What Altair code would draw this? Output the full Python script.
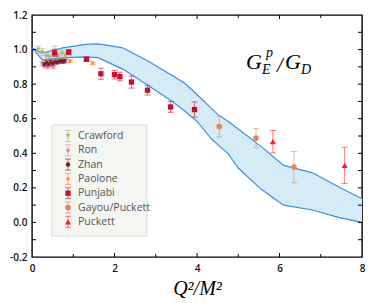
import altair as alt
import pandas as pd

# ---- theory band ----
band_x = [0.0, 0.25, 0.75, 1.3, 1.6, 2.2, 2.8, 3.4, 3.7, 4.0, 4.35, 4.5, 4.75, 5.0, 5.55, 6.1, 6.8, 7.45, 8.0]
band_upper = [1.01, 0.98, 1.01, 1.03, 1.033, 1.01, 0.935, 0.85, 0.805, 0.74, 0.66, 0.625, 0.585, 0.54, 0.44, 0.33, 0.287, 0.203, 0.137]
band_lower = [1.01, 0.94, 0.953, 0.958, 0.953, 0.887, 0.795, 0.70, 0.645, 0.585, 0.484, 0.45, 0.40, 0.315, 0.193, 0.10, 0.072, 0.028, 0.0]

# ---- data sets ----
series = ["Crawford", "Ron", "Zhan", "Paolone", "Punjabi", "Gayou/Puckett", "Puckett"]
colors = ["#b2b26a", "#f27f9f", "#7a1c24", "#ff7f2a", "#c8102e", "#e0875a", "#ff1f1f"]
star = "M0,-1 L0.22,-0.31 L0.95,-0.31 L0.36,0.12 L0.59,0.81 L0,0.38 L-0.59,0.81 L-0.36,0.12 L-0.95,-0.31 L-0.22,-0.31 Z"
shapes = ["triangle-down", "diamond", "circle", star, "square", "circle", "triangle-up"]
sizes = [22, 22, 12, 30, 28, 32, 38]

crawford_x = [0.15, 0.25, 0.35, 0.42, 0.55, 0.63, 0.72, 0.8]
crawford_y = [1.0, 0.985, 0.96, 0.955, 0.995, 0.96, 0.975, 0.965]
crawford_err = [0.02, 0.02, 0.02, 0.02, 0.025, 0.02, 0.02, 0.02]

ron_x = [0.25, 0.3, 0.38, 0.45, 0.52]
ron_y = [0.92, 0.905, 0.9, 0.91, 0.9]
ron_err = [0.012, 0.012, 0.012, 0.012, 0.012]

zhan_x = [0.3, 0.35, 0.4, 0.45, 0.5, 0.55, 0.6, 0.65, 0.7, 0.75, 0.8]
zhan_y = [0.915, 0.925, 0.915, 0.93, 0.92, 0.93, 0.925, 0.93, 0.935, 0.93, 0.935]
zhan_err = [0.01] * 11

paolone_x = [0.92, 1.47]
paolone_y = [0.934, 0.921]
paolone_err = [0.008, 0.008]

punjabi_x = [0.55, 0.89, 1.32, 1.67, 2.0, 2.13, 2.41, 2.8, 3.36, 3.94]
punjabi_y = [0.98, 0.985, 0.944, 0.86, 0.855, 0.844, 0.812, 0.765, 0.668, 0.653]
punjabi_err = [0.02, 0.015, 0.012, 0.032, 0.025, 0.025, 0.035, 0.028, 0.031, 0.044]

gayou_x = [4.54, 5.43, 6.35]
gayou_y = [0.555, 0.488, 0.32]
gayou_err = [0.06, 0.056, 0.09]

puckett_x = [5.84, 7.58]
puckett_y = [0.467, 0.33]
puckett_err = [0.065, 0.105]

sets = [
    (crawford_x, crawford_y, crawford_err),
    (ron_x, ron_y, ron_err),
    (zhan_x, zhan_y, zhan_err),
    (paolone_x, paolone_y, paolone_err),
    (punjabi_x, punjabi_y, punjabi_err),
    (gayou_x, gayou_y, gayou_err),
    (puckett_x, puckett_y, puckett_err),
]

x_ticks_major = [0, 2, 4, 6, 8]
x_ticks_minor = [1, 3, 5, 7]
y_labels = [-0.2, 0.0, 0.2, 0.4, 0.6, 0.8, 1.0, 1.2]
y_ticks = [-0.1, 0.0, 0.1, 0.2, 0.3, 0.4, 0.5, 0.6, 0.7, 0.8, 0.9, 1.0, 1.1]

W, H = 330, 242
xs = alt.Scale(domain=[0, 8], nice=False, zero=False)
ys = alt.Scale(domain=[-0.2, 1.2], nice=False, zero=False)

x_axis = alt.Axis(values=x_ticks_major, format="d", title="Q²/M²", labelFlush=False,
                  labelOverlap=False, labelPadding=6, titlePadding=5)
y_axis = alt.Axis(values=y_labels, labelExpr="replace(format(datum.value, '.1f'), '\u2212', '-')",
                  title=None, labelFlush=False, labelOverlap=False, labelPadding=5)


def XA(f):
    return alt.X(f, scale=xs, axis=x_axis, title="Q²/M²")


def YA(f):
    return alt.Y(f, scale=ys, axis=y_axis, title=None)


band_df = pd.DataFrame({"x": band_x, "y": band_upper, "y2": band_lower})
band = alt.Chart(band_df).mark_area(color="#d5ecf7", opacity=1).encode(x=XA("x:Q"), y=YA("y:Q"), y2="y2:Q")
up_line = alt.Chart(band_df).mark_line(color="#3d8de8", strokeWidth=1.2).encode(x=XA("x:Q"), y=YA("y:Q"))
lo_line = alt.Chart(band_df).mark_line(color="#3d8de8", strokeWidth=1.2).encode(x=XA("x:Q"), y=YA("y2:Q"))

layers = [band, up_line, lo_line]

# inner ticks
ydf = pd.DataFrame({"y": y_ticks})
layers.append(alt.Chart(ydf).mark_rule(color="black", strokeWidth=1).encode(
    y=YA("y:Q"), x=alt.value(0), x2=alt.value(4)))
layers.append(alt.Chart(ydf).mark_rule(color="black", strokeWidth=1).encode(
    y=YA("y:Q"), x=alt.value(W), x2=alt.value(W - 4)))
xmaj = pd.DataFrame({"x": x_ticks_major[1:-1]})
xmin = pd.DataFrame({"x": x_ticks_minor})
for d, ln in ((xmaj, 4), (xmin, 3)):
    layers.append(alt.Chart(d).mark_rule(color="black", strokeWidth=1).encode(
        x=XA("x:Q"), y=alt.value(H), y2=alt.value(H - ln)))
    layers.append(alt.Chart(d).mark_rule(color="black", strokeWidth=1).encode(
        x=XA("x:Q"), y=alt.value(0), y2=alt.value(ln)))

# data error bars + points
for name, col, shp, sz, (sx, sy, se) in zip(series, colors, shapes, sizes, sets):
    df = pd.DataFrame({"x": sx, "y": sy, "lo": [a - b for a, b in zip(sy, se)],
                       "hi": [a + b for a, b in zip(sy, se)]})
    c = alt.Chart(df)
    layers.append(c.mark_rule(color=col, opacity=0.6, strokeWidth=1).encode(
        x=XA("x:Q"), y=YA("lo:Q"), y2="hi:Q"))
    layers.append(c.mark_tick(color=col, opacity=0.6, orient="horizontal", size=6, thickness=1).encode(
        x=XA("x:Q"), y=YA("lo:Q")))
    layers.append(c.mark_tick(color=col, opacity=0.6, orient="horizontal", size=6, thickness=1).encode(
        x=XA("x:Q"), y=YA("hi:Q")))
    layers.append(c.mark_point(shape=shp, filled=True, color=col, opacity=1, size=sz).encode(
        x=XA("x:Q"), y=YA("y:Q")))

# legend
one = pd.DataFrame({"t": [""]})
layers.append(alt.Chart(one).mark_rect(fill="#f5f5f1", stroke="#d9d9d5", strokeWidth=1).encode(
    x=alt.value(20), x2=alt.value(115), y=alt.value(110), y2=alt.value(221)))
for i, (name, col, shp, sz) in enumerate(zip(series, colors, shapes, sizes)):
    yy = 121 + i * 14.3
    c = alt.Chart(pd.DataFrame({"t": [name]}))
    layers.append(c.mark_rule(color=col, opacity=0.6, strokeWidth=1).encode(
        x=alt.value(36), y=alt.value(yy - 5.5), y2=alt.value(yy + 5.5)))
    for dy in (-5.5, 5.5):
        layers.append(c.mark_rule(color=col, opacity=0.6, strokeWidth=1).encode(
            x=alt.value(33), x2=alt.value(39), y=alt.value(yy + dy)))
    layers.append(c.mark_point(shape=shp, filled=True, color=col, opacity=1, size=max(sz, 20)).encode(
        x=alt.value(36), y=alt.value(yy)))
    layers.append(c.mark_text(align="left", baseline="middle", font="Open Sans", fontSize=10.5,
                              color="#555555").encode(x=alt.value(46), y=alt.value(yy), text="t:N"))

# formula label G_E^p / G_D
def txt(s, x, y, size):
    return alt.Chart(pd.DataFrame({"t": [s]})).mark_text(
        align="left", baseline="alphabetic", font="Liberation Serif", fontStyle="italic",
        fontSize=size, color="black").encode(x=alt.value(x), y=alt.value(y), text="t:N")

layers += [txt("G", 214, 54, 22), txt("E", 230, 58.5, 14), txt("p", 234, 41.5, 14),
           txt("/", 245, 56.5, 21), txt("G", 253, 54, 22), txt("D", 269, 58.5, 14)]

chart = alt.layer(*layers).properties(
    width=W, height=H, autosize=alt.AutoSizeParams(type="none"),
    padding={"left": 24, "top": 7, "right": 4, "bottom": 46},
).configure_view(stroke="black", strokeWidth=1.4).configure_axis(
    domain=False, ticks=False, grid=False, labelOverlap=False, labelFont="Open Sans", labelFontSize=10,
    labelFontWeight=600, labelColor="#111111", titleFont="Liberation Serif",
    titleFontStyle="italic", titleFontWeight="normal", titleFontSize=20, titleColor="black")

chart.save("out.html", embed_options={"renderer": "svg", "actions": False})
